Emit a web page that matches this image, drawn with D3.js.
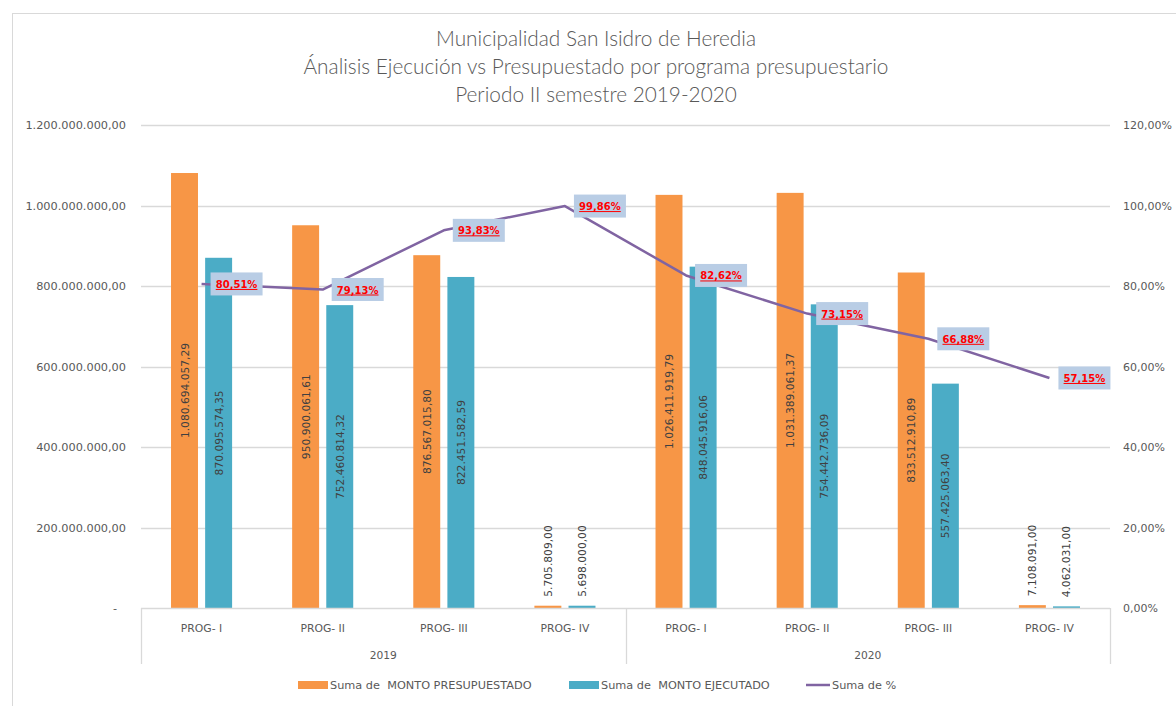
<!DOCTYPE html>
<html>
<head>
<meta charset="utf-8">
<script src="https://cdn.jsdelivr.net/npm/d3@7"></script>
<style>
  body { margin: 0; background: #fff; }
</style>
</head>
<body>
<div id="chart"></div>
<script>
// data
var programs = ["PROG- I", "PROG- II", "PROG- III", "PROG- IV"];
var years = ["2019", "2020"];
var presupuestado = [1080694057.29, 950900061.61, 876567015.80, 5705809.00,
                     1026411919.79, 1031389061.37, 833512910.89, 7108091.00];
var ejecutado = [870095574.35, 752460814.32, 822451582.59, 5698000.00,
                 848045916.06, 754442736.09, 557425063.40, 4062031.00];
var porcentaje = [0.8051, 0.7913, 0.9383, 0.9986, 0.8262, 0.7315, 0.6688, 0.5715];
var leftTicks = [0, 200e6, 400e6, 600e6, 800e6, 1000e6, 1200e6];
var rightTicks = [0, 0.2, 0.4, 0.6, 0.8, 1.0, 1.2];
var titleLines = ["Municipalidad San Isidro de Heredia",
                  "Ánalisis Ejecución vs Presupuestado por programa presupuestario",
                  "Periodo II semestre 2019-2020"];
var seriesNames = ["Suma de  MONTO PRESUPUESTADO", "Suma de  MONTO EJECUTADO", "Suma de %"];

var W = 1176, H = 706;
var plot = {left: 141, right: 1110, top: 125, bottom: 608};
var colors = {pres: "#f79646", ejec: "#4bacc6", line: "#8064a2", grid: "#d9d9d9", text: "#595959"};
var FONT = "'DejaVu Sans', sans-serif";

var es = d3.formatLocale({decimal: ",", thousands: ".", grouping: [3], currency: ["", ""]});
var fmtNum = es.format(",.2f");
var fmtPct = es.format(",.2%");

// flatten to one row per category
var rows = [];
years.forEach(function(yr, i){
    programs.forEach(function(p, j){
        var k = i * programs.length + j;
        rows.push({key: yr + "|" + p, year: yr, prog: p,
                   pres: presupuestado[k], ejec: ejecutado[k], pct: porcentaje[k]});
    });
});

var svg = d3.select("#chart").append("svg")
    .attr("width", W).attr("height", H);

// chart frame
svg.append("rect")
    .attr("x", 12.5).attr("y", 13.5)
    .attr("width", W).attr("height", H)
    .attr("fill", "none").attr("stroke", colors.grid);

// title
svg.append("g").selectAll("text")
    .data(titleLines).enter().append("text")
    .attr("x", 596).attr("y", function(d, i){ return 46 + i * 28; })
    .attr("text-anchor", "middle")
    .style("font-family", "Lato, 'Open Sans', sans-serif")
    .style("font-size", "20.8px")
    .style("font-weight", "300")
    .attr("fill", colors.text)
    .text(function(d){ return d; });

var x0 = d3.scaleBand().domain(rows.map(function(d){ return d.key; }))
    .range([plot.left, plot.right]);
var x1 = d3.scaleBand().domain(["pres", "ejec"])
    .range([0, x0.bandwidth()]).paddingInner(0.21).paddingOuter(0.88);
var y = d3.scaleLinear().domain([0, 1.2e9]).range([plot.bottom, plot.top]);
var yR = d3.scaleLinear().domain([0, 1.2]).range([plot.bottom, plot.top]);

// gridlines
svg.append("g").selectAll("line")
    .data(leftTicks.slice(1)).enter().append("line")
    .attr("x1", plot.left).attr("x2", plot.right)
    .attr("y1", function(d){ return Math.round(y(d)) + 0.5; })
    .attr("y2", function(d){ return Math.round(y(d)) + 0.5; })
    .attr("stroke", colors.grid).attr("stroke-width", 1.3);

// left axis
var yAxis = d3.axisLeft(y).tickValues(leftTicks).tickSize(0).tickPadding(0)
    .tickFormat(function(d){ return d === 0 ? "-" : fmtNum(d); });
var gL = svg.append("g").attr("transform", "translate(126,0)").call(yAxis);
gL.select(".domain").remove();
gL.selectAll("text").attr("fill", colors.text)
    .style("font-family", FONT).style("font-size", "11.3px")
    .attr("x", function(d){ return d === 0 ? -9 : 0; });

// right axis
var yAxisR = d3.axisRight(yR).tickValues(rightTicks).tickSize(0).tickPadding(0)
    .tickFormat(fmtPct);
var gR = svg.append("g").attr("transform", "translate(1123,0)").call(yAxisR);
gR.select(".domain").remove();
gR.selectAll("text").attr("fill", colors.text)
    .style("font-family", FONT).style("font-size", "11px");

// bars
var groups = svg.append("g").selectAll("g")
    .data(rows).enter().append("g")
    .attr("transform", function(d){ return "translate(" + x0(d.key) + ",0)"; });

groups.selectAll("rect")
    .data(function(d){ return [{s: "pres", v: d.pres}, {s: "ejec", v: d.ejec}]; })
    .enter().append("rect")
    .attr("x", function(d){ return x1(d.s); })
    .attr("width", x1.bandwidth())
    .attr("y", function(d){ return y(d.v); })
    .attr("height", function(d){ return y(0) - y(d.v); })
    .attr("fill", function(d){ return colors[d.s]; });

// bar value labels, rotated
groups.selectAll("text.val")
    .data(function(d){ return [{s: "pres", v: d.pres}, {s: "ejec", v: d.ejec}]; })
    .enter().append("text")
    .attr("class", "val")
    .attr("transform", function(d){
        var cx = x1(d.s) + x1.bandwidth() / 2;
        var big = y(0) - y(d.v) > 120;
        var cy = big ? (y(d.v) + y(0)) / 2 : y(d.v) - 9;
        return "translate(" + (cx + 4) + "," + cy + ") rotate(-90)";
    })
    .attr("text-anchor", function(d){ return y(0) - y(d.v) > 120 ? "middle" : "start"; })
    .style("font-family", FONT).style("font-size", "10.7px")
    .attr("fill", "#404040")
    .text(function(d){ return fmtNum(d.v); });

// category axis
var axisG = svg.append("g");
axisG.append("line")
    .attr("x1", plot.left).attr("x2", plot.right)
    .attr("y1", plot.bottom + 0.5).attr("y2", plot.bottom + 0.5)
    .attr("stroke", colors.grid).attr("stroke-width", 1.3);
var seps = [plot.left, x0(years[1] + "|" + programs[0]), plot.right];
axisG.selectAll("line.sep").data(seps).enter().append("line")
    .attr("class", "sep")
    .attr("x1", function(d){ return Math.round(d) + 0.5; })
    .attr("x2", function(d){ return Math.round(d) + 0.5; })
    .attr("y1", plot.bottom).attr("y2", 664)
    .attr("stroke", colors.grid).attr("stroke-width", 1.3);
axisG.selectAll("text.prog").data(rows).enter().append("text")
    .attr("class", "prog")
    .attr("x", function(d){ return x0(d.key) + x0.bandwidth() / 2; })
    .attr("y", 632)
    .attr("text-anchor", "middle")
    .style("font-family", FONT).style("font-size", "10.8px")
    .attr("fill", colors.text)
    .text(function(d){ return d.prog; });
axisG.selectAll("text.year").data(years).enter().append("text")
    .attr("class", "year")
    .attr("x", function(d){
        return (x0(d + "|" + programs[0]) + x0(d + "|" + programs[programs.length - 1]) + x0.bandwidth()) / 2;
    })
    .attr("y", 659)
    .attr("text-anchor", "middle")
    .style("font-family", FONT).style("font-size", "10.7px")
    .attr("fill", colors.text)
    .text(function(d){ return d; });

// % line
var cx = function(d){ return x0(d.key) + x0.bandwidth() / 2; };
svg.append("path")
    .datum(rows)
    .attr("d", d3.line().x(cx).y(function(d){ return yR(d.pct); }))
    .attr("fill", "none")
    .attr("stroke", colors.line)
    .attr("stroke-width", 2.5)
    .attr("stroke-linejoin", "round");

// % labels
var lab = svg.append("g").selectAll("g")
    .data(rows).enter().append("g")
    .attr("transform", function(d){ return "translate(" + (cx(d) + 9) + "," + yR(d.pct) + ")"; });
lab.append("rect")
    .attr("x", 0).attr("y", -11.5).attr("width", 52).attr("height", 23)
    .attr("fill", "#b9cde5");
lab.append("text")
    .attr("x", 26).attr("y", 4)
    .attr("text-anchor", "middle")
    .style("font-family", FONT).style("font-size", "10px").style("font-weight", "bold")
    .style("text-decoration", "underline")
    .attr("fill", "#ff0000")
    .text(function(d){ return fmtPct(d.pct); });

// legend
var legend = svg.append("g").attr("transform", "translate(0,685)");
var legItems = [
    {name: seriesNames[0], color: colors.pres, type: "rect", x: 298, w: 30},
    {name: seriesNames[1], color: colors.ejec, type: "rect", x: 569, w: 30},
    {name: seriesNames[2], color: colors.line, type: "line", x: 806, w: 24}
];
legItems.forEach(function(it){
    if (it.type === "rect") {
        legend.append("rect").attr("x", it.x).attr("y", -4).attr("width", it.w).attr("height", 8)
            .attr("fill", it.color);
    } else {
        legend.append("line").attr("x1", it.x).attr("x2", it.x + it.w).attr("y1", 0).attr("y2", 0)
            .attr("stroke", it.color).attr("stroke-width", 2.5);
    }
    legend.append("text").attr("x", it.x + it.w + 2).attr("y", 4)
        .style("font-family", FONT).style("font-size", "11.3px").style("white-space", "pre")
        .attr("fill", colors.text)
        .text(it.name);
});
</script>
</body>
</html>
